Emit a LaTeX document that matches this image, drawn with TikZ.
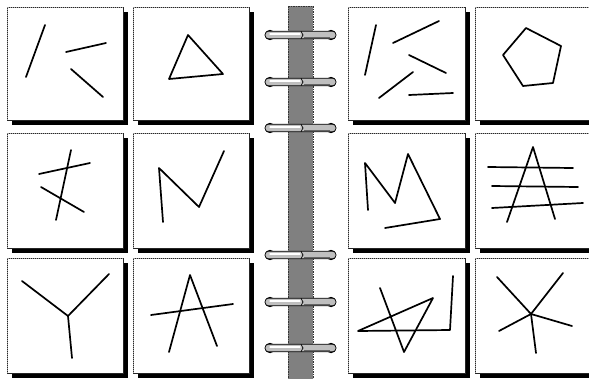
\documentclass[tikz,border=0pt]{standalone}
\begin{document}
\begin{tikzpicture}[x=1pt,y=-1pt,
  sk/.style={line width=1.7pt,line cap=round,line join=round,black},
  card/.style={fill=white,draw=black!85,line width=0.7pt},
  shadowbox/.style={fill=black},
  ringbar/.style={fill=black!25,draw=black,line width=0.7pt,rounded corners=3.6pt}]
\useasboundingbox (0,0) rectangle (589,378);
\clip (0,0) rectangle (589,378);
\fill[white] (0,0) rectangle (589,378);
% cards
\foreach \xa/\xb in {7/123,133/249,348/465,475/595}{
  \foreach \ya/\yb in {7/120,133/248,258/373}{
    \fill[shadowbox] (\xa+5,\ya+5) rectangle (\xb+5,\yb+5);
    \draw[card] (\xa,\ya) rectangle (\xb,\yb);
    \draw[black!35,dash pattern=on 1pt off 1pt,line width=0.5pt] (\xa,\yb) -- (\xa,\ya) -- (\xb,\ya);
  }
}
% spine
\fill[black!50] (288,6) rectangle (313,380);
\draw[black!80,dash pattern=on 1.5pt off 1pt,line width=0.6pt] (288,6) -- (288,380) (313,6) -- (313,380) (288,6) -- (313,6);
% rings
\foreach \c in {35,82,128,255,302,348}{
  \fill[black] (270,\c) circle (5.2);
  \fill[black] (331,\c) circle (5.2);
  \draw[ringbar] (265,\c-3.8) rectangle (336,\c+3.8);
  \draw[white,line width=1.2pt,line cap=round] (270,\c-1) -- (300,\c-1);
  \draw[black!60,line width=0.5pt] (304,\c+2) -- (330,\c+2);
  \draw[black,line width=0.7pt] (301,\c-3.8) -- (303,\c) -- (301,\c+3.8);
}
% box 1
\draw[sk] (45,25) -- (26,77);
\draw[sk] (66,52) -- (106,43);
\draw[sk] (71,69) -- (103,97);
% box 2 triangle
\draw[sk] (188,35) -- (169,79) -- (223,74) -- cycle;
% box 3
\draw[sk] (376,25) -- (365,75);
\draw[sk] (393,43) -- (439,21);
\draw[sk] (409,55) -- (446,73);
\draw[sk] (413,72) -- (379,98);
\draw[sk] (409,95) -- (453,93);
% box 4 pentagon
\draw[sk] (526,28) -- (561,46) -- (553,83) -- (523,86) -- (503,55) -- cycle;
% box 5
\draw[sk] (71,150) -- (56,220);
\draw[sk] (39,174) -- (90,163);
\draw[sk] (41,187) -- (84,212);
% box 6 N
\draw[sk] (163,222) -- (159,168) -- (199,207) -- (224,151);
% box 7 M
\draw[sk] (368,210) -- (365,163) -- (395,203) -- (408,154) -- (440,219) -- (385,228);
% box 8
\draw[sk] (507,222) -- (533,147) -- (555,219);
\draw[sk] (488,167) -- (573,168);
\draw[sk] (492,186) -- (578,187);
\draw[sk] (492,208) -- (583,203);
% box 9 Y
\draw[sk] (22,281) -- (68,316) -- (109,274);
\draw[sk] (68,316) -- (72,358);
% box 10 A
\draw[sk] (169,352) -- (190,275) -- (217,346);
\draw[sk] (151,315) -- (233,304);
% box 11
\draw[sk] (380,288) -- (404,352) -- (433,298) -- (358,331) -- (450,330) -- (453,276);
% box 12 star
\draw[sk] (531,314) -- (497,277);
\draw[sk] (531,314) -- (563,273);
\draw[sk] (531,314) -- (572,326);
\draw[sk] (531,314) -- (536,353);
\draw[sk] (531,314) -- (499,331);
\end{tikzpicture}
\end{document}
